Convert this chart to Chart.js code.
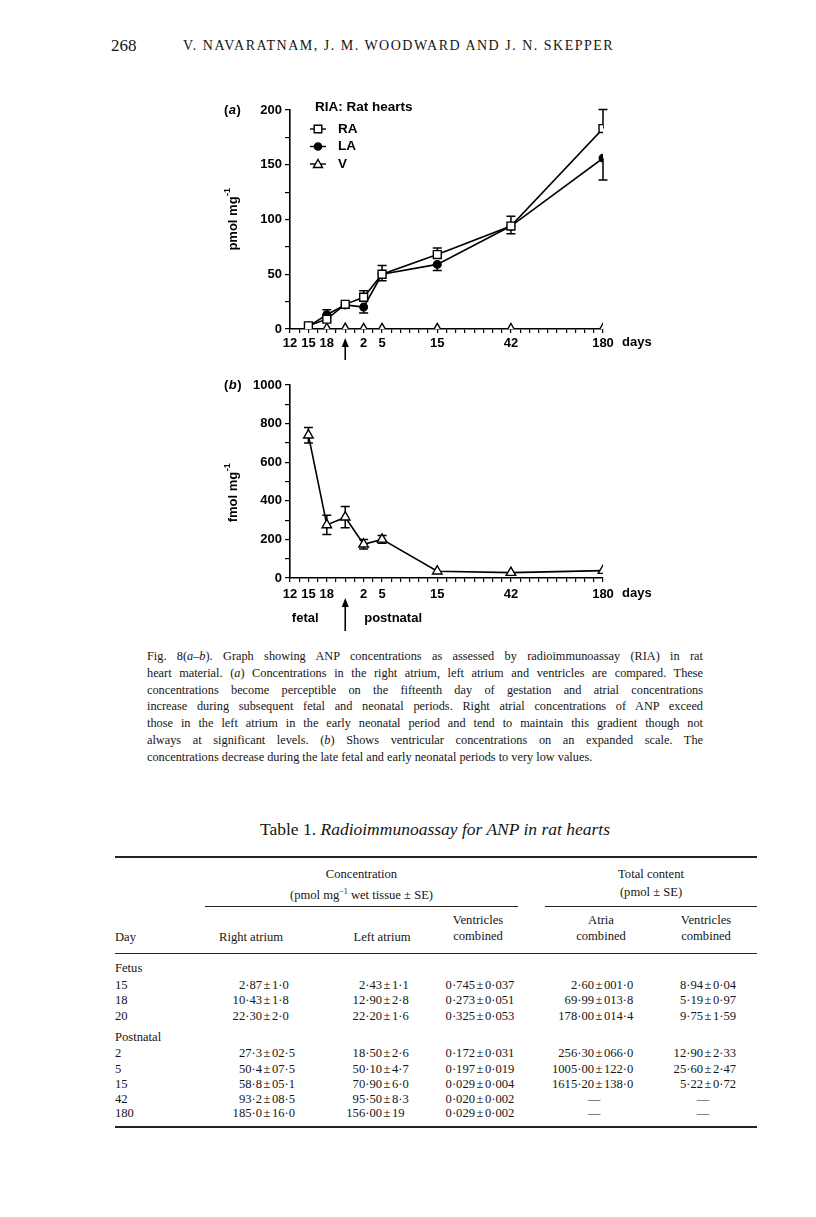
<!DOCTYPE html>
<html>
<head>
<meta charset="utf-8">
<script src="https://cdn.jsdelivr.net/npm/chart.js@4.4.1/dist/chart.umd.min.js"></script>
<style>
body { margin: 0; background: #fff; }
#page { position: relative; width: 816px; height: 1217px; font-family: "Liberation Serif", "Times New Roman", serif; color: #151515; overflow: hidden; }
.abs { position: absolute; white-space: nowrap; }
canvas { position: absolute; }
#cap { position: absolute; left: 147px; top: 648px; width: 556px; font-size: 12.3px; line-height: 16.8px; }
#cap div { text-align: justify; text-align-last: justify; }
#cap div.last { text-align-last: left; }
.rule { position: absolute; height: 1px; background: #222; }
.tb { font-size: 12.6px; line-height: 16px; }
.pm { margin: 0 1.5px; }
</style>
</head>
<body>
<div id="page">
  <div class="abs" style="left:111px;top:36px;font-size:17px;">268</div>
  <div class="abs" style="left:183px;top:38px;font-size:14px;letter-spacing:1.5px;">V. NAVARATNAM, J. M. WOODWARD AND J. N. SKEPPER</div>

  <canvas id="chartA" width="470" height="290" style="left:195px;top:90px;width:470px;height:290px;"></canvas>
  <canvas id="chartB" width="470" height="280" style="left:195px;top:365px;width:470px;height:280px;"></canvas>

  <div id="cap">
    <div>Fig. 8(<i>a–b</i>). Graph showing ANP concentrations as assessed by radioimmunoassay (RIA) in rat</div>
    <div>heart material. (<i>a</i>) Concentrations in the right atrium, left atrium and ventricles are compared. These</div>
    <div>concentrations become perceptible on the fifteenth day of gestation and atrial concentrations</div>
    <div>increase during subsequent fetal and neonatal periods. Right atrial concentrations of ANP exceed</div>
    <div>those in the left atrium in the early neonatal period and tend to maintain this gradient though not</div>
    <div>always at significant levels. (<i>b</i>) Shows ventricular concentrations on an expanded scale. The</div>
    <div class="last">concentrations decrease during the late fetal and early neonatal periods to very low values.</div>
  </div>

  <div class="abs" style="left:0;width:870px;text-align:center;top:819px;font-size:17.5px;">Table 1. <i>Radioimmunoassay for ANP in rat hearts</i></div>
  <div class="rule" style="left:115px;width:642px;top:856px;height:1.5px;"></div>
  <div class="abs tb" style="left:205px;width:313px;text-align:center;top:866px;">Concentration</div>
  <div class="abs tb" style="left:205px;width:313px;text-align:center;top:884px;">(pmol mg<sup style="font-size:8px;">−1</sup> wet tissue ± SE)</div>
  <div class="abs tb" style="left:545px;width:212px;text-align:center;top:866px;">Total content</div>
  <div class="abs tb" style="left:545px;width:212px;text-align:center;top:884px;">(pmol ± SE)</div>
  <div class="rule" style="left:205px;width:313px;top:906px;"></div>
  <div class="rule" style="left:545px;width:212px;top:906px;"></div>
  <div class="abs tb" style="left:115px;top:929px;">Day</div>
  <div class="abs tb" style="left:201px;width:100px;text-align:center;top:929px;">Right atrium</div>
  <div class="abs tb" style="left:332px;width:100px;text-align:center;top:929px;">Left atrium</div>
  <div class="abs tb" style="left:428px;width:100px;text-align:center;top:912px;">Ventricles<br>combined</div>
  <div class="abs tb" style="left:551px;width:100px;text-align:center;top:912px;">Atria<br>combined</div>
  <div class="abs tb" style="left:656px;width:100px;text-align:center;top:912px;">Ventricles<br>combined</div>
  <div class="rule" style="left:115px;width:642px;top:953px;"></div>
  <div id="rows"></div>
  <div class="rule" style="left:115px;width:642px;top:1126px;height:1.5px;"></div>
</div>

<script>
// x axis: position units along the age axis (12,15,18 fetal | 2,5,15,42,180 postnatal)
const dayPos = [1, 2, 3, 4, 5, 8, 12, 17];
const xTickPos = [0, 1, 2, 4, 5, 8, 12, 17];
const xTickText = ['12', '15', '18', '2', '5', '15', '42', '180'];
const birthPos = 3;

// (a) pmol mg-1
const raValues = [2.9, 9, 22.5, 29, 50, 68, 94, 183];
const raErrUp = [1, 8.5, 2, 6, 8, 6, 9, 17.5];
const laValues = [2.4, 13, 22, 20, 50, 59, 94, 156];
const laErrDown = [1, 3, 1.5, 5.5, 6, 5.5, 7, 20];
const vValuesA = [0.7, 0.3, 0.3, 0.2, 0.2, 0.03, 0.02, 0.03];
const yTicksA = [0, 50, 100, 150, 200];

// (b) fmol mg-1
const vValuesB = [740, 275, 315, 175, 200, 35, 28, 38];
const vErrB = [40, 50, 55, 25, 20, 6, 5, 5];
const yTicksB = [0, 200, 400, 600, 800, 1000];

// table 1
const tableRows = [
  ['Fetus'],
  ['15', '2·87±1·0', '2·43±1·1', '0·745±0·037', '2·60±001·0', '8·94±0·04'],
  ['18', '10·43±1·8', '12·90±2·8', '0·273±0·051', '69·99±013·8', '5·19±0·97'],
  ['20', '22·30±2·0', '22·20±1·6', '0·325±0·053', '178·00±014·4', '9·75±1·59'],
  ['Postnatal'],
  ['2', '27·3±02·5', '18·50±2·6', '0·172±0·031', '256·30±066·0', '12·90±2·33'],
  ['5', '50·4±07·5', '50·10±4·7', '0·197±0·019', '1005·00±122·0', '25·60±2·47'],
  ['15', '58·8±05·1', '70·90±6·0', '0·029±0·004', '1615·20±138·0', '5·22±0·72'],
  ['42', '93·2±08·5', '95·50±8·3', '0·020±0·002', '—', '—'],
  ['180', '185·0±16·0', '156·00±19', '0·029±0·002', '—', '—']
];
const rowTops = [960, 977, 992, 1008, 1029, 1045, 1061, 1076, 1091, 1105];
const pmX = [262, 382, 475, 594, 703];

const rowsEl = document.getElementById('rows');
tableRows.forEach((r, i) => {
  const top = rowTops[i];
  let html = '<div class="abs tb" style="left:115px;top:' + top + 'px;">' + r[0] + '</div>';
  for (let c = 1; c < r.length; c++) {
    const x = pmX[c - 1];
    if (r[c] === '—') {
      html += '<div class="abs tb" style="left:' + (x - 30) + 'px;width:60px;text-align:center;top:' + top + 'px;">—</div>';
      continue;
    }
    const [a, b] = r[c].split('±');
    html += '<div class="abs tb" style="right:' + (816 - x) + 'px;top:' + top + 'px;">' + a + '</div>';
    html += '<div class="abs tb" style="left:' + x + 'px;top:' + top + 'px;"><span class="pm">±</span>' + b + '</div>';
  }
  rowsEl.insertAdjacentHTML('beforeend', html);
});

Chart.defaults.font.family = '"Liberation Sans", Arial, sans-serif';
Chart.defaults.font.size = 13;
Chart.defaults.font.weight = 'bold';
Chart.defaults.color = '#000';

const FONT = 'bold 13px "Liberation Sans", Arial, sans-serif';

function pts(vals) {
  return dayPos.map((x, i) => ({ x: x, y: vals[i] }));
}

function txt(ctx, s, x, y, font) {
  ctx.font = font || FONT;
  ctx.fillText(s, x, y);
  return x + ctx.measureText(s).width;
}

function arrow(ctx, x, tip, bottom) {
  ctx.lineWidth = 1.6;
  ctx.beginPath();
  ctx.moveTo(x, bottom);
  ctx.lineTo(x, tip + 6);
  ctx.stroke();
  ctx.beginPath();
  ctx.moveTo(x, tip);
  ctx.lineTo(x - 3.5, tip + 9);
  ctx.lineTo(x + 3.5, tip + 9);
  ctx.closePath();
  ctx.fill();
}

function symbol(ctx, style, x, y) {
  ctx.lineWidth = 1.4;
  ctx.beginPath();
  ctx.moveTo(x - 8, y);
  ctx.lineTo(x + 8, y);
  ctx.stroke();
  ctx.beginPath();
  if (style === 'rect') {
    ctx.rect(x - 3.8, y - 3.8, 7.6, 7.6);
    ctx.fillStyle = '#fff';
  } else if (style === 'circle') {
    ctx.arc(x, y, 3.6, 0, Math.PI * 2);
    ctx.fillStyle = '#000';
  } else {
    ctx.moveTo(x, y - 4.5);
    ctx.lineTo(x + 4.5, y + 3.5);
    ctx.lineTo(x - 4.5, y + 3.5);
    ctx.closePath();
    ctx.fillStyle = '#fff';
  }
  ctx.fill();
  ctx.stroke();
  ctx.fillStyle = '#000';
}

// error bars drawn under the markers
const errorBars = {
  id: 'errorBars',
  beforeDatasetsDraw(chart) {
    const { ctx } = chart;
    const yScale = chart.scales.y;
    ctx.save();
    ctx.strokeStyle = '#000';
    ctx.lineWidth = 1.5;
    chart.data.datasets.forEach((ds, i) => {
      if (!ds.errUp && !ds.errDown) return;
      const meta = chart.getDatasetMeta(i);
      meta.data.forEach((el, j) => {
        const v = ds.data[j].y;
        const up = ds.errUp ? ds.errUp[j] : 0;
        const down = ds.errDown ? ds.errDown[j] : 0;
        const y1 = yScale.getPixelForValue(v + up);
        const y2 = yScale.getPixelForValue(v - down);
        if (Math.abs(y2 - y1) < 3) return;
        ctx.beginPath();
        ctx.moveTo(el.x, y1);
        ctx.lineTo(el.x, y2);
        if (up) { ctx.moveTo(el.x - 4.5, y1); ctx.lineTo(el.x + 4.5, y1); }
        if (down) { ctx.moveTo(el.x - 4.5, y2); ctx.lineTo(el.x + 4.5, y2); }
        ctx.stroke();
      });
    });
    ctx.restore();
  }
};

const marks = {
  id: 'marks',
  afterDraw(chart, args, o) {
    const { ctx, chartArea: ca } = chart;
    const xs = chart.scales.x, ys = chart.scales.y;
    ctx.save();
    ctx.fillStyle = '#000';
    ctx.strokeStyle = '#000';
    ctx.textBaseline = 'middle';
    ctx.textAlign = 'left';

    // panel letter
    let px = ca.left - 66;
    const py = ys.getPixelForValue(ys.max);
    px = txt(ctx, '(', px, py);
    px = txt(ctx, o.panel, px + 0.5, py, 'italic bold 13px "Liberation Sans", Arial, sans-serif');
    txt(ctx, ')', px + 0.5, py);

    // y title, rotated
    ctx.save();
    ctx.translate(ca.left - 57, ys.getPixelForValue(o.titleValue));
    ctx.rotate(-Math.PI / 2);
    ctx.font = FONT;
    const w1 = ctx.measureText(o.title).width;
    ctx.font = 'bold 9px "Liberation Sans", Arial, sans-serif';
    const w2 = ctx.measureText('-1').width;
    let tx = -(w1 + w2) / 2;
    tx = txt(ctx, o.title, tx, 0);
    txt(ctx, '-1', tx + 0.5, -5, 'bold 9px "Liberation Sans", Arial, sans-serif');
    ctx.restore();

    // "days" after the last tick
    const tickY = ca.bottom + o.labelDrop;
    txt(ctx, 'days', xs.getPixelForValue(xs.max) + 19, tickY);

    const bx = xs.getPixelForValue(birthPos);
    if (o.legend) {
      const lx = ca.left + 25;
      txt(ctx, 'RIA: Rat hearts', lx, ca.top - 3, 'bold 13.5px "Liberation Sans", Arial, sans-serif');
      const rows = [['rect', 'RA'], ['circle', 'LA'], ['triangle', 'V']];
      rows.forEach((r, i) => {
        const ry = ca.top + 19 + i * 17.5;
        symbol(ctx, r[0], ca.left + 28, ry);
        txt(ctx, r[1], ca.left + 48, ry, 'bold 13.5px "Liberation Sans", Arial, sans-serif');
      });
      arrow(ctx, bx, ca.bottom + 9, ca.bottom + 31);
    } else {
      arrow(ctx, bx, ca.bottom + 20, ca.bottom + 53);
      ctx.textAlign = 'center';
      txt(ctx, 'fetal', bx - 40, ca.bottom + 40);
      ctx.textAlign = 'left';
      txt(ctx, 'postnatal', bx + 19, ca.bottom + 40);
    }
    ctx.restore();
  }
};

function xScale(pad) {
  return {
    type: 'linear',
    min: 0,
    max: 17,
    afterFit: s => { s.height = 30; },
    border: { color: '#000', width: 1.6 },
    grid: { drawOnChartArea: false, drawTicks: true, tickLength: 4, color: '#000', lineWidth: 1.2 },
    ticks: {
      stepSize: 0.5,
      autoSkip: false,
      maxRotation: 0,
      padding: pad,
      callback: v => {
        const k = xTickPos.indexOf(v);
        return k >= 0 ? xTickText[k] : '';
      }
    }
  };
}

function yScale(max, step, labels) {
  return {
    min: 0,
    max: max,
    afterFit: s => { s.width = 95; },
    border: { color: '#000', width: 1.6 },
    grid: { drawOnChartArea: false, drawTicks: true, tickLength: 5, color: '#000', lineWidth: 1.2 },
    ticks: {
      stepSize: step,
      padding: 3,
      callback: v => (labels.indexOf(v) >= 0 ? String(v) : '')
    }
  };
}

const lineBase = { borderColor: '#000', borderWidth: 1.6, pointBorderColor: '#000', pointBorderWidth: 1.4, tension: 0 };

new Chart(document.getElementById('chartA'), {
  type: 'line',
  data: {
    datasets: [
      Object.assign({ label: 'RA', data: pts(raValues), errUp: raErrUp, pointStyle: 'rect', pointRadius: 5.6, pointBackgroundColor: '#fff' }, lineBase),
      Object.assign({ label: 'LA', data: pts(laValues), errDown: laErrDown, pointStyle: 'circle', pointRadius: 3.8, pointBackgroundColor: '#000' }, lineBase),
      Object.assign({ label: 'V', data: pts(vValuesA), pointStyle: 'triangle', pointRadius: 5.5, pointBackgroundColor: '#fff', showLine: false }, lineBase)
    ]
  },
  options: {
    responsive: false,
    animation: false,
    devicePixelRatio: 1,
    layout: { padding: { left: 0, top: 20, right: 62, bottom: 21 } },
    scales: { x: xScale(3), y: yScale(200, 25, yTicksA) },
    plugins: {
      legend: { display: false },
      tooltip: { enabled: false },
      marks: { panel: 'a', title: 'pmol mg', titleValue: 100, legend: true, labelDrop: 13 }
    }
  },
  plugins: [errorBars, marks]
});

new Chart(document.getElementById('chartB'), {
  type: 'line',
  data: {
    datasets: [
      Object.assign({ label: 'V', data: pts(vValuesB), errUp: vErrB, errDown: vErrB, pointStyle: 'triangle', pointRadius: 5.5, pointBackgroundColor: '#fff' }, lineBase)
    ]
  },
  options: {
    responsive: false,
    animation: false,
    devicePixelRatio: 1,
    layout: { padding: { left: 0, top: 20, right: 62, bottom: 37 } },
    scales: { x: xScale(5), y: yScale(1000, 100, yTicksB) },
    plugins: {
      legend: { display: false },
      tooltip: { enabled: false },
      marks: { panel: 'b', title: 'fmol mg', titleValue: 440, legend: false, labelDrop: 15 }
    }
  },
  plugins: [errorBars, marks]
});
</script>
</body>
</html>
